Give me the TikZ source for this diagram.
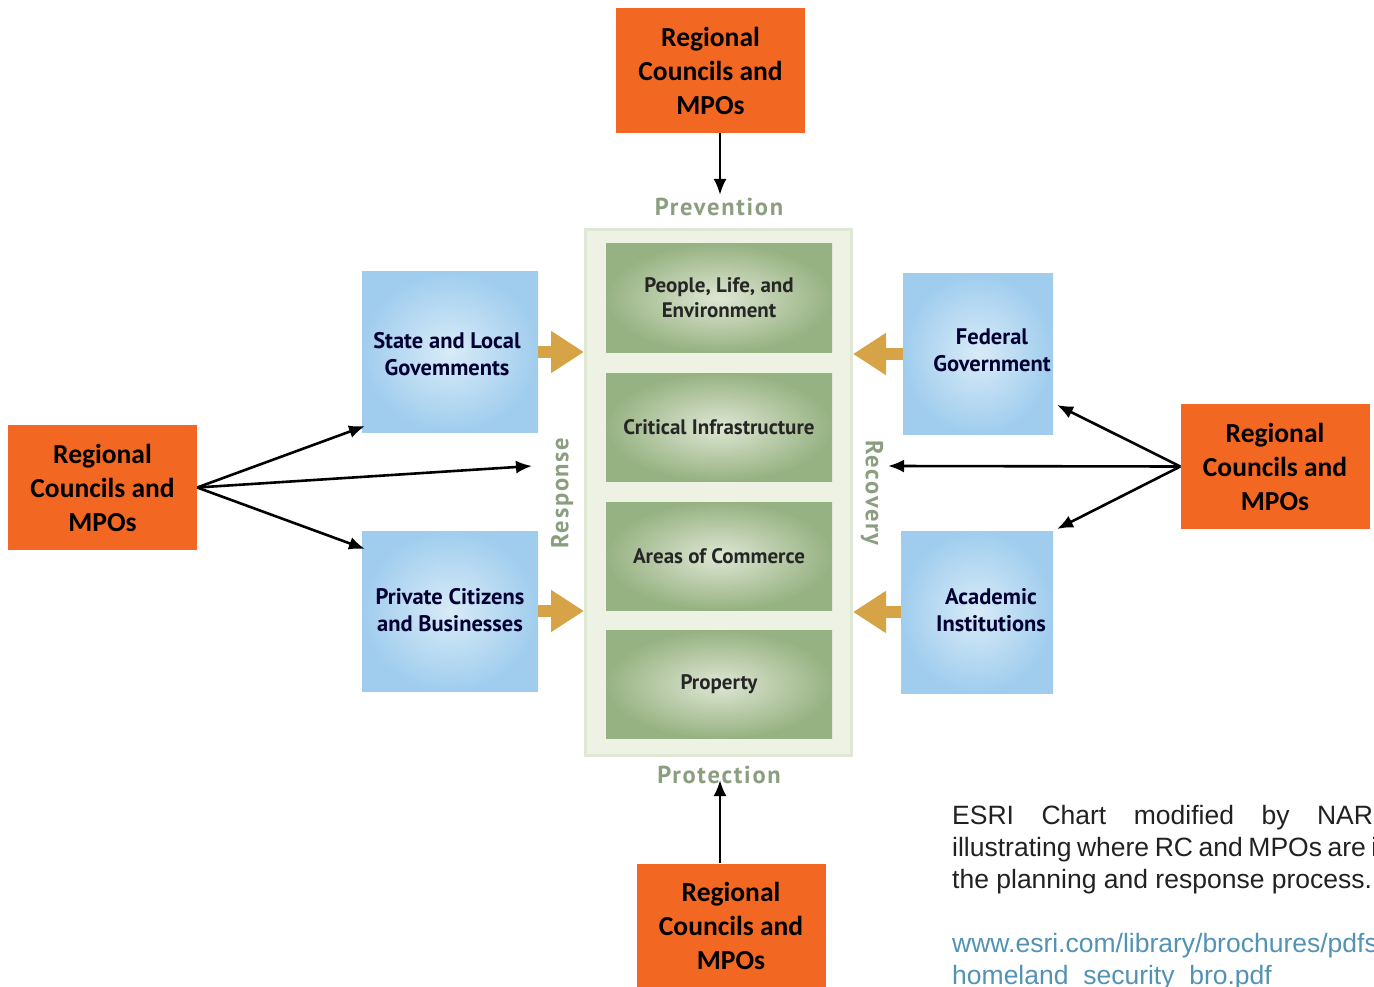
\documentclass[tikz,border=0pt]{standalone}
\usepackage{fontspec}
\setmainfont{Liberation Sans}
\newfontfamily\rcfont{Carlito}
\newfontfamily\chartfont{PT Sans}
\newfontfamily\phasefont[LetterSpace=7]{PT Sans}
\usetikzlibrary{arrows.meta}

\definecolor{rcorange}{HTML}{F26722}
\definecolor{bluein}{HTML}{D8EBF7}
\definecolor{blueout}{HTML}{A0CDEE}
\definecolor{greenin}{HTML}{DEE6D3}
\definecolor{greenout}{HTML}{97B282}
\definecolor{panelgreen}{HTML}{EDF2E5}
\definecolor{panelrim}{HTML}{DFE8D4}
\definecolor{arrowgold}{HTML}{D6A446}
\definecolor{phasegreen}{HTML}{8B9E80}
\definecolor{linkblue}{HTML}{5292B4}

\begin{document}
\begin{tikzpicture}[
        x=1pt, y=-1pt,
        >={Latex[length=16pt,width=13pt]},
        every node/.style={align=center, inner sep=0pt},
        rcbox/.style={fill=rcorange, minimum width=189pt, minimum height=125pt,
            font=\rcfont\bfseries\fontsize{27.5}{34}\selectfont},
        rcline/.style={->, line width=2.6pt},
        sector/.style={inner color=greenin, outer color=greenout,
            minimum width=226pt, minimum height=108pt,
            text=black!85, font=\chartfont\bfseries\fontsize{21}{25}\selectfont},
        partner/.style={inner color=bluein, outer color=blueout},
        partnertext/.style={text=black!80!blue,
            font=\chartfont\bfseries\fontsize{22.5}{27}\selectfont},
        phase/.style={text=phasegreen, font=\phasefont\bfseries\fontsize{24.5}{28}\selectfont},
        goldarrow/.style={draw=arrowgold, line width=12pt,
            -{Triangle[length=33pt,width=40pt]}},
        note/.style={align=left, text=black!87, font=\fontsize{26.5}{32}\selectfont}
    ]

        \useasboundingbox (0,0) rectangle (1374,987);

        % --- Koordinaten ---
        \def\colx{719}    % Mitte der Spalte
        \def\leftx{450}   % linke Partner
        \def\rightx{978}  % rechte Partner

        % --- Zentrale Spalte ---
        \node[fill=panelgreen, draw=panelrim, line width=3pt,
            minimum width=266pt, minimum height=526pt] (panel) at (718.5, 492.5) {};

        \node[sector] (people)   at (\colx, 298)   {People, Life, and\\Environment};
        \node[sector] (infra)    at (\colx, 427)   {Critical Infrastructure};
        \node[sector] (commerce) at (\colx, 556)   {Areas of Commerce};
        \node[sector] (property) at (\colx, 684.5) {Property};

        % --- Phasen ---
        \node[phase] (prev) at (\colx, 207) {Prevention};
        \node[phase] (prot) at (\colx, 775) {Protection};
        \node[phase, rotate=90]  (resp) at (562, 493) {Response};
        \node[phase, rotate=-90] (reco) at (872, 493) {Recovery};

        % --- Partner (links) ---
        \node[partner, minimum width=176pt, minimum height=160pt] (state)   at (\leftx, 352) {};
        \node[partnertext] (stateText) at (447, 354) {State and Local\\Govemments};
        \node[partner, minimum width=176pt, minimum height=160pt] (private) at (\leftx, 611) {};
        \node[partnertext] (privateText) at (450, 610) {Private Citizens\\and Businesses};

        % --- Partner (rechts) ---
        \node[partner, minimum width=150pt, minimum height=160pt] (federal)  at (\rightx, 354) {};
        \node[partnertext] (federalText) at (992, 350) {Federal\\Government};
        \node[partner, minimum width=152pt, minimum height=162pt] (academic) at (977, 612) {};
        \node[partnertext] (academicText) at (991, 610) {Academic\\Institutions};

        % --- Goldene Pfeile ---
        \draw[goldarrow] (state.east)    -- (state.east -| panel.west);
        \draw[goldarrow] (private.east)  -- (private.east -| panel.west);
        \draw[goldarrow] (federal.west)  -- (federal.west -| panel.east);
        \draw[goldarrow] (academic.west) -- (academic.west -| panel.east);

        % --- Regional Councils and MPOs ---
        \node[rcbox] (rcTop)    at (710.5, 70.5) {Regional\\Councils and\\MPOs};
        \node[rcbox] (rcLeft)   at (102.5, 487.5) {Regional\\Councils and\\MPOs};
        \node[rcbox] (rcRight)  at (1275, 466.5) {Regional\\Councils and\\MPOs};
        \node[rcbox] (rcBottom) at (731, 926) {Regional\\Councils and\\MPOs};

        % Pfeilspitzen
        \coordinate (tipTop)      at (720, 195);
        \coordinate (tipBottom)   at (720, 780);
        \coordinate (tipState)    at (365, 426);
        \coordinate (tipLeftMid)  at (532, 466);
        \coordinate (tipPrivate)  at (365, 549);
        \coordinate (tipFederal)  at (1057, 405);
        \coordinate (tipRightMid) at (888, 466);
        \coordinate (tipAcademic) at (1057, 529);

        % --- Verbindungen ---
        \draw[rcline] (rcTop.south -| tipTop) -- (tipTop);
        \draw[rcline] (rcBottom.north -| tipBottom) -- (tipBottom);

        \draw[rcline] (rcLeft.east) -- (tipState);
        \draw[rcline] (rcLeft.east) -- (tipLeftMid);
        \draw[rcline] (rcLeft.east) -- (tipPrivate);

        \draw[rcline] (rcRight.west) -- (tipFederal);
        \draw[rcline] (rcRight.west) -- (tipRightMid);
        \draw[rcline] (rcRight.west) -- (tipAcademic);

        % --- Text ---
        \node[note, anchor=north west] (caption) at (952, 805)
            {\makebox[440pt][s]{ESRI Chart modified by NARC}\\
             \makebox[440pt][s]{illustrating where RC and MPOs are in}\\
             the planning and response process.};
        \node[note, text=linkblue, anchor=north west] (link) at (952, 933)
            {www.esri.com/library/brochures/pdfs/\\homeland\_security\_bro.pdf};

    \end{tikzpicture}
\end{document}
